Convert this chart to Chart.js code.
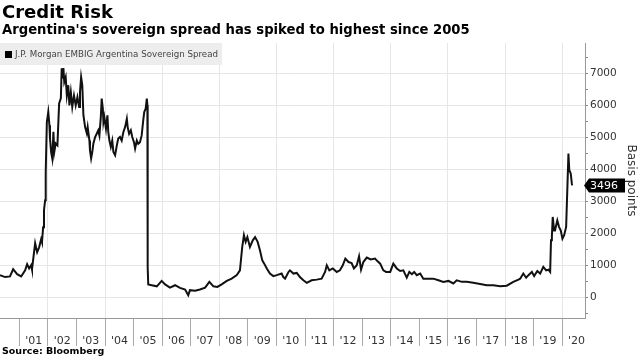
<!DOCTYPE html>
<html>
<head>
<meta charset="utf-8">
<script src="https://cdn.jsdelivr.net/npm/chart.js@4/dist/chart.umd.min.js"></script>
<style>
  html, body { margin: 0; padding: 0; background: #fff; }
  #wrap { position: relative; width: 640px; height: 360px; overflow: hidden; }
  #c { position: absolute; left: 0; top: 0; }
  .t { position: absolute; white-space: nowrap; color: #000; }
  #title { left: 2px; top: 1px; font: bold 18px "DejaVu Sans", sans-serif; }
  #subtitle { left: 2px; top: 22px; font: bold 13.2px "DejaVu Sans", sans-serif; }
  #source { left: 2px; top: 345px; font: bold 9.5px "DejaVu Sans", sans-serif; }
  #legend { position: absolute; left: 0; top: 43px; width: 222px; height: 22px; background: #ededed; }
  #legend .sq { position: absolute; left: 5px; top: 8px; width: 7px; height: 7px; background: #000; }
  #legend .lt { position: absolute; left: 15px; top: 5.5px; font: 8.7px "DejaVu Sans", sans-serif; color: #444; white-space: nowrap; }
</style>
</head>
<body>
<div id="wrap">
  <canvas id="c" width="640" height="360"></canvas>
  <div class="t" id="title">Credit Risk</div>
  <div class="t" id="subtitle">Argentina's sovereign spread has spiked to highest since 2005</div>
  <div id="legend"><div class="sq"></div><div class="lt">J.P. Morgan EMBIG Argentina Sovereign Spread</div></div>
  <div class="t" id="source">Source: Bloomberg</div>
</div>
<script>
// Dates as decimal years, values in basis points
const dates = [
  2000.32,2000.50,2000.67,2000.78,2000.92,2001.06,2001.20,2001.27,2001.34,2001.41,2001.44,2001.55,2001.62,2001.69,2001.76,2001.79,2001.83,2001.86,2001.90,2001.92,2001.96,
  2002.01,2002.05,2002.07,2002.11,2002.15,2002.19,2002.22,2002.27,2002.33,2002.39,2002.45,2002.48,2002.52,2002.54,2002.57,2002.62,2002.66,2002.71,2002.75,2002.80,2002.85,2002.91,2002.97,
  2003.03,2003.09,2003.12,2003.16,2003.20,2003.24,2003.30,2003.36,2003.39,2003.45,2003.47,2003.51,2003.55,2003.59,2003.65,2003.71,2003.76,2003.80,2003.85,2003.88,2003.92,2003.94,2003.97,
  2004.03,2004.08,2004.11,2004.15,2004.20,2004.25,2004.29,2004.35,2004.41,2004.46,2004.52,2004.58,2004.64,2004.70,2004.76,2004.79,2004.84,2004.90,2004.95,
  2005.01,2005.05,2005.11,2005.16,2005.22,2005.28,2005.34,2005.37,2005.42,2005.46,2005.48,2005.49,2005.51,2005.63,2005.81,2005.98,
  2006.10,2006.27,2006.45,2006.62,2006.80,2006.91,2006.97,2007.15,2007.32,2007.50,2007.65,2007.79,2007.93,
  2008.08,2008.26,2008.43,2008.61,2008.72,2008.80,2008.86,2008.92,2008.98,2009.07,2009.17,2009.25,2009.34,2009.42,2009.50,2009.57,2009.66,2009.77,2009.89,
  2010.01,2010.18,2010.24,2010.30,2010.42,2010.47,2010.59,2010.71,2010.82,2010.94,2011.06,2011.23,2011.41,2011.58,2011.70,2011.76,2011.85,2011.97,
  2012.11,2012.22,2012.32,2012.41,2012.52,2012.63,2012.71,2012.81,2012.89,2012.96,2013.04,2013.16,2013.30,2013.45,2013.53,2013.63,2013.74,2013.84,2013.98,
  2014.09,2014.21,2014.33,2014.44,2014.56,2014.65,2014.74,2014.82,2014.91,2015.03,2015.14,2015.32,2015.49,2015.67,2015.84,
  2016.02,2016.19,2016.31,2016.49,2016.66,2016.89,2017.13,2017.36,2017.59,2017.83,
  2018.06,2018.29,2018.47,2018.53,2018.64,2018.74,2018.82,2018.94,2019.02,2019.13,2019.23,2019.34,2019.44,2019.52,2019.58,2019.61,2019.64,2019.67,2019.72,2019.75,2019.83,2019.89,2019.95,
  2020.01,2020.07,2020.14,2020.18,2020.22,2020.25,2020.30,2020.34,2020.35
];
const spread = [
  690,630,650,875,720,650,840,1030,900,1000,870,1690,1410,1560,1810,1720,2190,2720,3030,3875,5480,
  5790,5375,4970,4540,4340,5170,4540,4810,4750,6060,6220,7160,6840,7170,6730,6880,6310,6630,6000,6410,5950,6310,6000,
  6260,5950,6410,6880,6630,5690,5320,5120,5320,4900,4590,4340,4540,4810,5010,5120,5220,5060,5640,6210,5900,5480,5640,
  5270,5690,5170,4900,4700,4900,4540,4440,4750,4960,5010,4900,5170,5320,5580,5320,5110,5220,5010,
  4850,4650,4900,4800,4850,5060,5580,5790,5900,6210,6000,930,400,375,340,510,
  400,300,375,290,240,60,220,200,240,300,480,340,320,
  400,510,580,690,840,1570,1940,1730,1880,1570,1780,1880,1730,1470,1160,1050,900,740,660,
  690,740,630,580,790,840,740,760,630,530,450,530,550,580,790,1000,840,900,
  790,840,1000,1210,1100,1070,900,1000,1280,860,1100,1240,1180,1210,1130,1050,840,790,790,
  1050,900,820,840,610,790,720,790,690,740,580,580,580,530,480,
  510,430,530,480,480,450,410,375,375,340,
  360,480,550,580,740,610,690,790,660,820,740,950,840,860,790,1780,1890,2510,2090,2090,2400,2200,2090,
  1830,1940,2200,3340,4490,3970,3870,3550,3496
];
const yearTicks = [2001,2002,2003,2004,2005,2006,2007,2008,2009,2010,2011,2012,2013,2014,2015,2016,2017,2018,2019,2020];
const yTickValues = [0,1000,2000,3000,4000,5000,6000,7000];
const yMinorTicks = [-500,500,1500,2500,3500,4500,5500,6500,7500];
const seriesName = 'J.P. Morgan EMBIG Argentina Sovereign Spread';
const axisTitle = 'Basis points';

const points = dates.map((d, i) => ({ x: d, y: spread[i] }));
const lastValue = spread[spread.length - 1];
const allYTicks = yTickValues.concat(yMinorTicks).sort((a, b) => a - b);

const tagPlugin = {
  id: 'lastTag',
  afterDraw(chart) {
    const ctx = chart.ctx;
    const ys = chart.scales.y;
    const xa = chart.chartArea;
    const y = ys.getPixelForValue(lastValue);
    const x0 = xa.right - 1;
    ctx.save();
    ctx.fillStyle = '#000';
    ctx.beginPath();
    ctx.moveTo(x0, y);
    ctx.lineTo(x0 + 5, y - 7);
    ctx.lineTo(x0 + 41, y - 7);
    ctx.lineTo(x0 + 41, y + 7);
    ctx.lineTo(x0 + 5, y + 7);
    ctx.closePath();
    ctx.fill();
    ctx.fillStyle = '#fff';
    ctx.font = '11px "DejaVu Sans", sans-serif';
    ctx.textBaseline = 'middle';
    ctx.textAlign = 'left';
    ctx.fillText(String(lastValue), x0 + 6, y + 0.5);
    ctx.restore();
  }
};

new Chart(document.getElementById('c'), {
  type: 'line',
  data: {
    datasets: [{
      label: seriesName,
      data: points,
      borderColor: '#111',
      borderWidth: 2,
      pointRadius: 0,
      tension: 0,
      fill: false
    }]
  },
  options: {
    responsive: false,
    animation: false,
    events: [],
    layout: { padding: { top: 43, left: 0, right: 0, bottom: 0 } },
    plugins: { legend: { display: false }, tooltip: { enabled: false } },
    scales: {
      x: {
        type: 'linear',
        position: 'bottom',
        min: 2000.32,
        max: 2020.80,
        afterFit(s) { s.height = 42; },
        afterBuildTicks(s) { s.ticks = yearTicks.map(v => ({ value: v })); },
        border: { display: true, color: '#999', width: 1 },
        grid: {
          color: (c) => (c.tick && c.tick.value % 2 === 0) ? '#e6e6e6' : 'rgba(0,0,0,0)',
          tickColor: '#aaa',
          tickLength: 28,
          drawTicks: true
        },
        ticks: {
          autoSkip: false,
          maxRotation: 0,
          minRotation: 0,
          labelOffset: 14.3,
          padding: -11,
          color: '#333',
          font: { family: '"DejaVu Sans", sans-serif', size: 11 },
          callback: (v) => "'" + String(Math.round(v)).slice(2)
        }
      },
      y: {
        type: 'linear',
        position: 'right',
        min: -650,
        max: 7950,
        afterFit(s) { s.width = 55; },
        afterBuildTicks(s) { s.ticks = allYTicks.map(v => ({ value: v })); },
        border: { display: true, color: '#999', width: 1 },
        grid: {
          color: (c) => (c.tick && yTickValues.includes(c.tick.value)) ? '#e6e6e6' : 'rgba(0,0,0,0)',
          tickColor: '#888',
          tickLength: 3
        },
        ticks: {
          padding: 2,
          color: '#333',
          font: { family: '"DejaVu Sans", sans-serif', size: 10.5 },
          callback: (v) => yTickValues.includes(v) ? String(v) : ''
        },
        title: {
          display: true,
          text: axisTitle,
          color: '#333',
          font: { family: '"DejaVu Sans", sans-serif', size: 12 },
          padding: { top: 2, bottom: 0 }
        }
      }
    }
  },
  plugins: [tagPlugin]
});
</script>
</body>
</html>
